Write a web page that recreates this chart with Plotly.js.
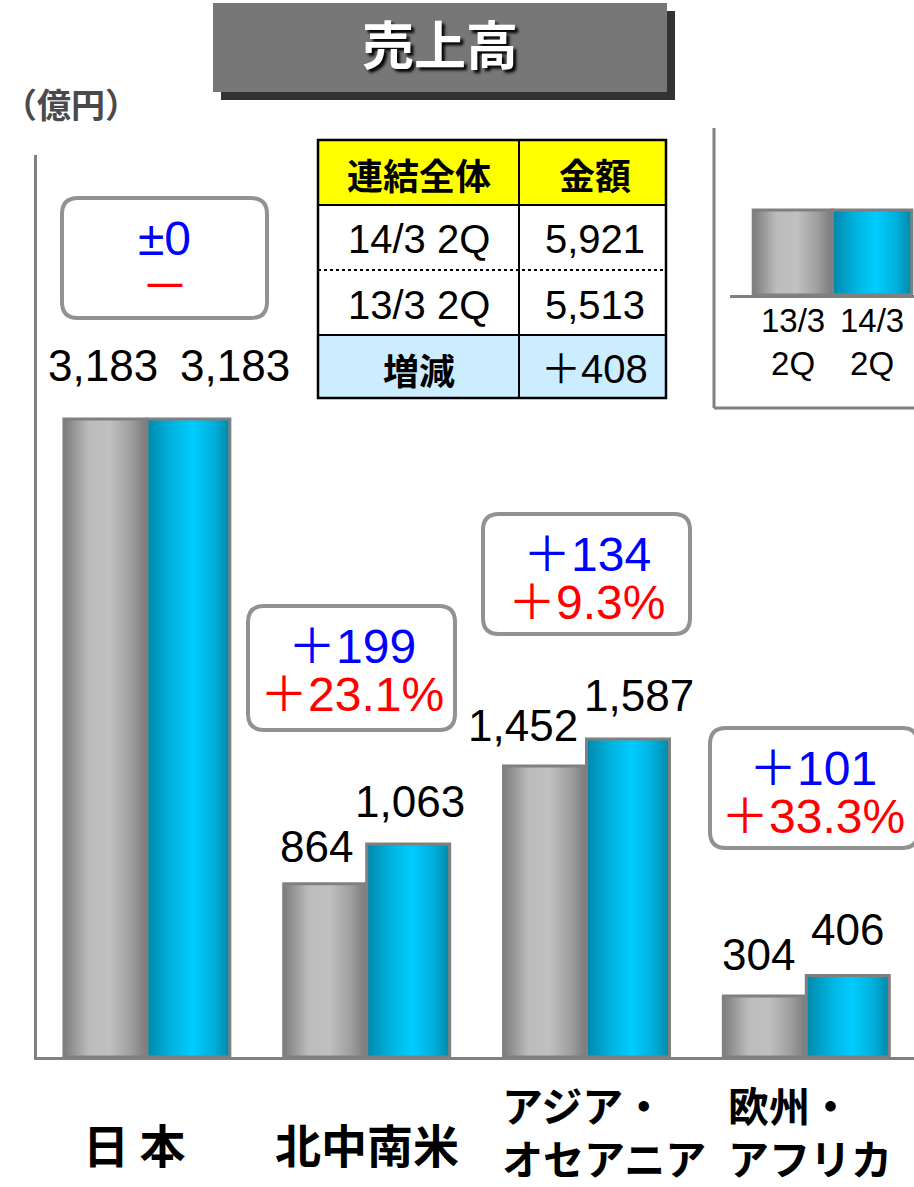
<!DOCTYPE html>
<html>
<head>
<meta charset="utf-8">
<script src="https://cdn.plot.ly/plotly-3.0.1.min.js"></script>
<style>
html,body{margin:0;padding:0;background:#fff;}
#chart{width:914px;height:1187px;}
</style>
</head>
<body>
<div id="chart"></div>
<script>
// ---------------- data ----------------
const categories = ['日 本', '北中南米', 'アジア・<br>オセアニア', '欧州・<br>アフリカ'];
const seriesNames = ['13/3 2Q', '14/3 2Q'];
const sales13 = [3183, 864, 1452, 304];
const sales14 = [3183, 1063, 1587, 406];
const changeAmt = ['±0', '＋199', '＋134', '＋101'];
const changePct = ['－', '＋23.1%', '＋9.3%', '＋33.3%'];
const tableHeader = ['連結全体', '金額'];
const tableRows = [['14/3 2Q', '5,921'], ['13/3 2Q', '5,513'], ['増減', '＋408']];
const chartTitle = '売上高';
const unitLabel = '（億円）';

// ---------------- layout helpers ----------------
const W = 914, H = 1187, ML = 37, MR = 0, MT = 155, MB = 130;
const PW = W - ML - MR, PH = H - MT - MB;
const px = x => (x - ML) / PW;
const py = y => (H - MB - y) / PH;

const SANS = '"Liberation Sans", Arial, "Noto Sans CJK JP", sans-serif';
const JP = '"Noto Sans CJK JP", sans-serif';
const GRAY_FALLBACK = '#A6A6A6', CYAN_FALLBACK = '#00B8E6';
const EDGE = '#808080';

function rect(x0, y0, x1, y1, fill, line, lw) {
  return {type: 'rect', xref: 'paper', yref: 'paper', x0: px(x0), x1: px(x1), y0: py(y1), y1: py(y0),
    fillcolor: fill || 'rgba(0,0,0,0)', line: {color: line || 'rgba(0,0,0,0)', width: lw || 0}, layer: 'above'};
}
function hline(x0, x1, y, color, w, dash) {
  return {type: 'line', xref: 'paper', yref: 'paper', x0: px(x0), x1: px(x1), y0: py(y), y1: py(y),
    line: {color: color, width: w, dash: dash || 'solid'}, layer: 'above'};
}
function vline(x, y0, y1, color, w) {
  return {type: 'line', xref: 'paper', yref: 'paper', x0: px(x), x1: px(x), y0: py(y0), y1: py(y1),
    line: {color: color, width: w}, layer: 'above'};
}
function roundRect(x0, y0, x1, y1, r, fill, line, lw) {
  const P = (x, y) => px(x).toFixed(5) + ',' + py(y).toFixed(5);
  const d = 'M' + P(x0 + r, y0) + ' L' + P(x1 - r, y0) + ' Q' + P(x1, y0) + ' ' + P(x1, y0 + r) +
    ' L' + P(x1, y1 - r) + ' Q' + P(x1, y1) + ' ' + P(x1 - r, y1) +
    ' L' + P(x0 + r, y1) + ' Q' + P(x0, y1) + ' ' + P(x0, y1 - r) +
    ' L' + P(x0, y0 + r) + ' Q' + P(x0, y0) + ' ' + P(x0 + r, y0) + ' Z';
  return {type: 'path', xref: 'paper', yref: 'paper', path: d, fillcolor: fill,
    line: {color: line, width: lw}, layer: 'above'};
}
function txt(x, y, text, font, extra) {
  return Object.assign({xref: 'paper', yref: 'paper', x: px(x), y: py(y), text: text, showarrow: false,
    xanchor: 'center', yanchor: 'middle', font: font}, extra || {});
}
const fmt = v => v.toLocaleString('en-US');

// ---------------- traces ----------------
const traces = [
  {type: 'bar', name: seriesNames[0], x: categories, y: sales13, xaxis: 'x', yaxis: 'y',
   marker: {color: GRAY_FALLBACK, line: {color: EDGE, width: 3}}, hoverinfo: 'skip'},
  {type: 'bar', name: seriesNames[1], x: categories, y: sales14, xaxis: 'x', yaxis: 'y',
   marker: {color: CYAN_FALLBACK, line: {color: EDGE, width: 3}}, hoverinfo: 'skip'},
  // key (legend) mini chart
  {type: 'bar', name: seriesNames[0], x: ['key'], y: [1], xaxis: 'x2', yaxis: 'y2',
   marker: {color: GRAY_FALLBACK, line: {color: EDGE, width: 3}}, hoverinfo: 'skip'},
  {type: 'bar', name: seriesNames[1], x: ['key'], y: [1], xaxis: 'x2', yaxis: 'y2',
   marker: {color: CYAN_FALLBACK, line: {color: EDGE, width: 3}}, hoverinfo: 'skip'}
];

// ---------------- annotations ----------------
const annotations = [];
const BAR_OFF = 0.189;
const labelDx = [[-2, 47], [-9, 2], [-22, 11], [-6, 0]];
const labelGap = [[37, 37], [21, 26], [24, 27], [25, 30]];
[sales13, sales14].forEach((vals, s) => {
  vals.forEach((v, i) => {
    annotations.push({xref: 'x', yref: 'y', x: i + (s ? BAR_OFF : -BAR_OFF), y: v, text: fmt(v),
      showarrow: false, xanchor: 'center', yanchor: 'bottom',
      xshift: labelDx[i][s], yshift: labelGap[i][s] - 10,
      font: {family: SANS, size: 44, color: '#000'}});
  });
});

// category labels
const catDx = [-13, 0, 17, 4];
const catY = [1143, 1143, 1130, 1130];
const catSize = [46, 46, 41, 41];
categories.forEach((c, i) => {
  annotations.push({xref: 'x', yref: 'paper', x: i, y: py(catY[i]), text: c, showarrow: false,
    xanchor: 'center', yanchor: 'middle', align: 'left', xshift: catDx[i],
    font: {family: JP, size: catSize[i], color: '#000', weight: 'bold'}});
});

// change boxes
const boxes = [[62, 198, 267, 318], [248, 606, 455, 730], [483, 514, 690, 634], [710, 728, 918, 848]];
const shapes = [];
boxes.forEach((b, i) => {
  shapes.push(roundRect(b[0], b[1], b[2], b[3], 16, '#ffffff', '#929292', 4));
  const cx = (b[0] + Math.min(b[2], 916)) / 2;
  annotations.push(txt(cx, b[1] + 40, changeAmt[i], {family: SANS, size: 48, color: '#0000FF'}));
  annotations.push(txt(cx, b[1] + 88, changePct[i], {family: SANS, size: 48, color: '#FF0000'}));
});

// title box
shapes.push(rect(221, 11, 675, 100, '#333333'));
shapes.push(rect(213, 3, 667, 92, '#777777'));

// table
const TX0 = 318, TX1 = 666, TXM = 519;
const rowY = [140, 205, 270, 335, 398];
shapes.push(rect(TX0, rowY[0], TX1, rowY[1], '#FFFF00'));
shapes.push(rect(TX0, rowY[1], TX1, rowY[3], '#FFFFFF'));
shapes.push(rect(TX0, rowY[3], TX1, rowY[4], '#CCECFF'));
shapes.push(hline(TX0, TX1, rowY[1], '#000', 2));
shapes.push(hline(TX0, TX1, rowY[2], '#000', 2, 'dot'));
shapes.push(hline(TX0, TX1, rowY[3], '#000', 2));
shapes.push(vline(TXM, rowY[0], rowY[4], '#000', 2));
shapes.push(rect(TX0, rowY[0], TX1, rowY[4], null, '#000', 2.5));
const colC = [(TX0 + TXM) / 2, (TXM + TX1) / 2 + 2];
annotations.push(txt(colC[0], 174, tableHeader[0], {family: JP, size: 36, color: '#000', weight: 'bold'}));
annotations.push(txt(colC[1], 174, tableHeader[1], {family: JP, size: 36, color: '#000', weight: 'bold'}));
tableRows.forEach((r, k) => {
  const yc = (rowY[k + 1] + rowY[k + 2]) / 2 + 2;
  const last = k === tableRows.length - 1;
  annotations.push(txt(colC[0], yc, r[0], last ? {family: JP, size: 36, color: '#000', weight: 'bold'}
                                             : {family: SANS, size: 40, color: '#000'}));
  annotations.push(txt(colC[1], yc, r[1], {family: SANS, size: 40, color: '#000'}));
});

// key frame
shapes.push(vline(714, 128, 408, EDGE, 3));
shapes.push(hline(714, 914, 408, EDGE, 3));
seriesNames.forEach((n, s) => {
  annotations.push({xref: 'x2', yref: 'paper', x: s ? BAR_OFF : -BAR_OFF, y: py(342),
    text: n.replace(' ', '<br>'), showarrow: false, xanchor: 'center', yanchor: 'middle',
    font: {family: SANS, size: 33, color: '#000'}});
});

// unit label
annotations.push(txt(71, 104, unitLabel, {family: JP, size: 34, color: '#4a4a4a', weight: 'bold'}));

// ---------------- layout ----------------
const layout = {
  width: W, height: H,
  margin: {l: ML, r: MR, t: MT, b: MB, pad: 0},
  paper_bgcolor: '#ffffff', plot_bgcolor: 'rgba(0,0,0,0)',
  showlegend: false,
  barmode: 'group', bargap: 0.245, bargroupgap: 0,
  title: {text: chartTitle, xref: 'container', yref: 'container', x: 440 / W, y: 1 - 47 / H,
          xanchor: 'center', yanchor: 'middle',
          font: {family: JP, size: 52, color: '#ffffff', weight: 'bold', shadow: '3px 3px 3px #000'}},
  xaxis: {domain: [0, 1], range: [-0.5, 3.49], type: 'category', showticklabels: false, ticks: '',
          showgrid: false, zeroline: false, showline: true, linecolor: EDGE, linewidth: 3, fixedrange: true},
  yaxis: {domain: [0, 1], range: [0, 4500], showticklabels: false, ticks: '', showgrid: false,
          zeroline: false, showline: true, linecolor: EDGE, linewidth: 3, fixedrange: true},
  xaxis2: {domain: [px(730), 1], range: [-0.488, 0.388], type: 'category', anchor: 'y2',
           showticklabels: false, ticks: '', showgrid: false, zeroline: false,
           showline: true, linecolor: EDGE, linewidth: 3},
  yaxis2: {domain: [py(295), py(200)], range: [0, 1.1176], anchor: 'x2', showticklabels: false,
           ticks: '', showgrid: false, zeroline: false, showline: false},
  shapes: shapes,
  annotations: annotations
};

Plotly.newPlot('chart', traces, layout, {displayModeBar: false, staticPlot: true}).then(gd => {
  // cylinder-like horizontal gradients for the bars
  const svg = gd.querySelector('svg.main-svg');
  const NS = 'http://www.w3.org/2000/svg';
  let defs = svg.querySelector('defs');
  if (!defs) { defs = document.createElementNS(NS, 'defs'); svg.insertBefore(defs, svg.firstChild); }
  function grad(id, stops) {
    const g = document.createElementNS(NS, 'linearGradient');
    g.setAttribute('id', id);
    g.setAttribute('x1', '0'); g.setAttribute('y1', '0'); g.setAttribute('x2', '1'); g.setAttribute('y2', '0');
    stops.forEach(([o, c]) => {
      const s = document.createElementNS(NS, 'stop');
      s.setAttribute('offset', o); s.setAttribute('stop-color', c);
      g.appendChild(s);
    });
    defs.appendChild(g);
  }
  grad('gGray', [[0, '#7c7c7c'], [0.3, '#bcbcbc'], [0.55, '#c0c0c0'], [0.8, '#a0a0a0'], [1, '#7a7a7a']]);
  grad('gCyan', [[0, '#0088aa'], [0.3, '#00b4e0'], [0.55, '#00ccff'], [0.8, '#00b0dc'], [1, '#0088a8']]);
  gd.querySelectorAll('.barlayer .trace').forEach((t, idx) => {
    const id = (idx % 2 === 0) ? 'gGray' : 'gCyan';
    t.querySelectorAll('path').forEach(p => { p.style.fill = 'url(#' + id + ')'; });
  });
});
</script>
</body>
</html>
